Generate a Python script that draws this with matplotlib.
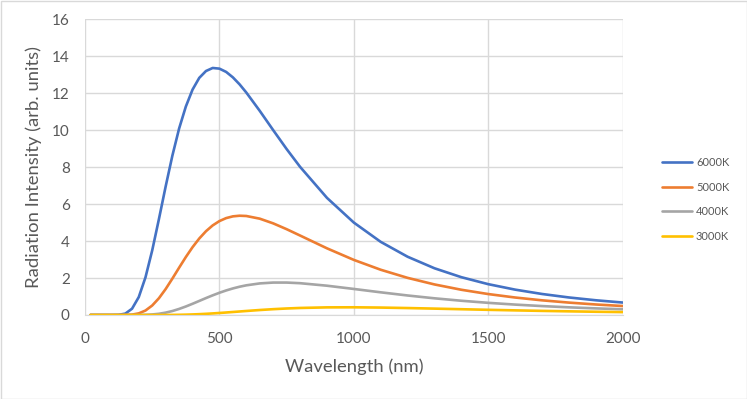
import matplotlib
matplotlib.use("Agg")
import matplotlib.pyplot as plt
from matplotlib.patches import Rectangle

# Wavelength (nm)
wavelength = [20, 50, 100, 125, 150, 175, 200, 225, 250, 275, 300, 325, 350, 375, 400,
              425, 450, 475, 500, 525, 550, 575, 600, 650, 700, 750, 800, 900, 1000,
              1100, 1200, 1300, 1400, 1500, 1600, 1700, 1800, 1900, 2000]

t6000 = [0, 0, 0.0002, 0.008, 0.075, 0.341, 0.970, 2.039, 3.496, 5.192, 6.954, 8.622, 10.087,
         11.277, 12.195, 12.831, 13.202, 13.366, 13.330, 13.153, 12.859, 12.480, 12.037,
         11.046, 10.002, 8.979, 8.016, 6.338, 5.000, 3.957, 3.152, 2.528, 2.045, 1.668,
         1.372, 1.137, 0.949, 0.797, 0.674]
t5000 = [0, 0, 0, 0.0002, 0.003, 0.022, 0.088, 0.242, 0.514, 0.908, 1.405, 1.970, 2.558,
         3.135, 3.670, 4.139, 4.534, 4.848, 5.082, 5.243, 5.337, 5.372, 5.357, 5.212,
         4.958, 4.643, 4.300, 3.608, 2.981, 2.448, 2.009, 1.653, 1.365, 1.133, 0.946,
         0.794, 0.671, 0.569, 0.486]
t4000 = [0, 0, 0, 0, 0, 0.0004, 0.0024, 0.0099, 0.029, 0.066, 0.128, 0.215, 0.328, 0.460,
         0.607, 0.761, 0.916, 1.064, 1.203, 1.328, 1.437, 1.530, 1.606, 1.709, 1.755,
         1.755, 1.721, 1.585, 1.409, 1.227, 1.056, 0.903, 0.771, 0.658, 0.563, 0.483,
         0.415, 0.358, 0.310]
t3000 = [0, 0, 0, 0, 0, 0, 0, 0, 0.0002, 0.0009, 0.0024, 0.0054, 0.0107, 0.0188, 0.0303,
         0.0453, 0.0637, 0.0852, 0.1092, 0.1352, 0.1623, 0.1898, 0.2173, 0.2694, 0.3152,
         0.3525, 0.3811, 0.4126, 0.4166, 0.4018, 0.3762, 0.3452, 0.3126, 0.2806, 0.2505,
         0.2229, 0.1981, 0.1759, 0.1562]

series_labels = ["6000K", "5000K", "4000K", "3000K"]
series_colors = ["#4472C4", "#ED7D31", "#A5A5A5", "#FFC000"]
x_ticks = [0, 500, 1000, 1500, 2000]
y_ticks = [0, 2, 4, 6, 8, 10, 12, 14, 16]

FONT = ["Lato", "DejaVu Sans"]
plt.rcParams['font.family'] = FONT
TXT = "#595959"
GRID = "#D9D9D9"

fig = plt.figure(figsize=(7.47, 3.99), dpi=100)
ax = fig.add_axes([85/747, 1-315/399, (622.7-85)/747, (315-19.3)/399])

for ys, lab, col in zip([t6000, t5000, t4000, t3000], series_labels, series_colors):
    ax.plot(wavelength, ys, color=col, lw=1.9, label=lab, solid_capstyle='round')

ax.set_xlim(0, 2000)
ax.set_ylim(0, 16)
ax.set_xticks(x_ticks)
ax.set_yticks(y_ticks)
ax.grid(True, color=GRID, lw=1.0)
ax.set_axisbelow(True)
for s in ax.spines.values():
    s.set_visible(False)
ax.spines['bottom'].set_visible(True)
ax.spines['bottom'].set_color(GRID)
ax.tick_params(axis='both', length=0, labelsize=11, labelcolor=TXT)
ax.tick_params(axis='y', pad=11)
ax.tick_params(axis='x', pad=12)

ax.set_xlabel("Wavelength (nm)", fontsize=13.3, color=TXT)
ax.set_ylabel("Radiation Intensity (arb. units)", fontsize=13.3, color=TXT)
ax.xaxis.set_label_coords(0.5, -0.148)
ax.yaxis.set_label_coords(-0.08, 0.5)

fig.legend(loc='center left', bbox_to_anchor=(662/747, 0.5), frameon=False,
           fontsize=8, labelcolor=TXT, handlelength=2.7, handletextpad=0.35,
           labelspacing=1.22, borderpad=0, borderaxespad=0)

fig.add_artist(Rectangle((0.5/747, 0.5/399), 1-1/747, 1-1/399, transform=fig.transFigure,
                         fill=False, edgecolor=GRID, lw=1.0))

fig.savefig("out.png", dpi=100, facecolor="white")
